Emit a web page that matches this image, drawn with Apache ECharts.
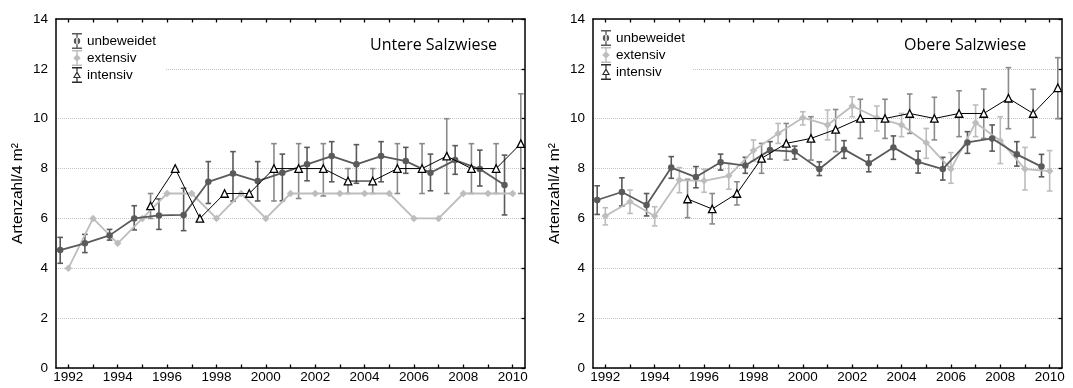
<!DOCTYPE html>
<html>
<head>
<meta charset="utf-8">
<script src="https://cdn.jsdelivr.net/npm/echarts@6/dist/echarts.min.js"></script>
<style>
  html, body { margin: 0; padding: 0; background: #fff; }
  #chart { width: 1073px; height: 388px; }
</style>
</head>
<body>
<div id="chart"></div>
<script>
// Survey years and axis tick labels
const years = [1992, 1993, 1994, 1995, 1996, 1997, 1998, 1999, 2000, 2001, 2002, 2003, 2004, 2005, 2006, 2007, 2008, 2009, 2010];
const labelYears = [1992, 1994, 1996, 1998, 2000, 2002, 2004, 2006, 2008, 2010];
const panelTitles = ['Untere Salzwiese', 'Obere Salzwiese'];
const seriesNames = ['unbeweidet', 'extensiv', 'intensiv'];
const yAxisTitle = 'Artenzahl/4 m²';

// Untere Salzwiese: mean species number with lower / upper range
const untereUnbeweidet   = [4.73, 5.0, 5.32, 6.0, 6.12, 6.14, 7.47, 7.8, 7.5, 7.83, 8.17, 8.5, 8.17, 8.5, 8.3, 7.83, 8.34, 7.98, 7.34];
const untereUnbeweidetLo = [4.2, 4.63, 5.13, 5.54, 5.56, 5.51, 6.6, 6.7, 6.7, 6.71, 7.51, 7.47, 7.41, 7.47, 7.81, 7.11, 7.77, 7.3, 6.14];
const untereUnbeweidetHi = [5.24, 5.36, 5.56, 6.51, 6.78, 7.21, 8.28, 8.68, 8.28, 8.58, 8.85, 9.08, 8.96, 9.08, 8.85, 8.58, 8.92, 8.74, 8.54];
const untereExtensiv     = [4, 6, 5, 6, 7, 7, 6, 7, 6, 7, 7, 7, 7, 7, 6, 6, 7, 7, 7];
const untereIntensiv     = [null, null, null, 6.5, 8, 6, 7, 7, 8, 8, 8, 7.5, 7.5, 8, 8, 8.5, 8, 8, 9];
const untereIntensivLo   = [null, null, null, 6, null, null, null, null, 6.7, 6.8, 6.9, 7, 7, 7, 7, 7, 7, 7, 7];
const untereIntensivHi   = [null, null, null, 7, null, null, null, null, 9, 9, 9, 8, 8, 9, 9, 10, 9, 9, 11];

// Obere Salzwiese: mean species number with lower / upper range
const obereUnbeweidet   = [6.74, 7.06, 6.54, 8.04, 7.66, 8.25, 8.12, 8.74, 8.68, 7.98, 8.77, 8.21, 8.85, 8.27, 7.98, 9.05, 9.21, 8.57, 8.08];
const obereUnbeweidetLo = [6.16, 6.5, 6.1, 7.61, 7.23, 7.94, 7.81, 8.38, 8.38, 7.72, 8.41, 7.87, 8.37, 7.82, 7.54, 8.61, 8.7, 8.1, 7.67];
const obereUnbeweidetHi = [7.31, 7.63, 7.0, 8.48, 8.08, 8.58, 8.45, 9.08, 8.9, 8.27, 9.12, 8.55, 9.31, 8.7, 8.45, 9.48, 9.75, 9.08, 8.57];
const obereExtensiv     = [6.1, 6.67, 6.1, 7.54, 7.51, 7.71, 8.72, 9.41, 10.04, 9.75, 10.51, 10.04, 9.75, 9.04, 7.98, 9.84, 9.12, 7.98, 7.9];
const obereExtensivLo   = [5.74, 6.2, 5.7, 7.03, 7.05, 7.17, 8.3, 9.01, 9.75, 9.15, 10.08, 9.51, 9.28, 8.41, 7.41, 9.28, 8.2, 7.14, 7.1];
const obereExtensivHi   = [6.43, 7.14, 6.47, 8.04, 7.98, 8.21, 9.15, 9.81, 10.28, 10.35, 10.88, 10.51, 10.21, 9.61, 8.64, 10.55, 10.08, 8.85, 8.72];
const obereIntensiv     = [null, null, null, 6.78, 6.38, 7.0, 8.41, 9.01, 9.21, 9.57, 10.01, 10.01, 10.21, 10.01, 10.21, 10.21, 10.82, 10.21, 11.24];
const obereIntensivLo   = [null, null, null, 6.03, 5.78, 6.54, 7.81, 8.34, 8.34, 8.68, 9.21, 9.21, 9.41, 9.15, 9.28, 9.21, 9.6, 9.25, 10.0];
const obereIntensivHi   = [null, null, null, 7.57, 7.0, 7.47, 9.01, 9.81, 10.08, 10.37, 10.78, 10.78, 10.99, 10.86, 11.12, 11.19, 12.05, 11.18, 12.45];

const panels = [
  {
    unbeweidet: [untereUnbeweidet, untereUnbeweidetLo, untereUnbeweidetHi],
    extensiv: [untereExtensiv, null, null],
    intensiv: [untereIntensiv, untereIntensivLo, untereIntensivHi]
  },
  {
    unbeweidet: [obereUnbeweidet, obereUnbeweidetLo, obereUnbeweidetHi],
    extensiv: [obereExtensiv, obereExtensivLo, obereExtensivHi],
    intensiv: [obereIntensiv, obereIntensivLo, obereIntensivHi]
  }
];

// Groups are drawn side by side within each year
const dodge = { unbeweidet: -0.33, extensiv: 0, intensiv: 0.33 };

const style = {
  unbeweidet: { line: '#5a5a5a', bar: '#5a5a5a', symbol: 'circle', size: 6.5, width: 1.8, fill: '#5a5a5a', border: '#5a5a5a', z: 4 },
  extensiv:   { line: '#bdbdbd', bar: '#bdbdbd', symbol: 'diamond', size: 7.5, width: 1.8, fill: '#bdbdbd', border: '#bdbdbd', z: 3 },
  intensiv:   { line: '#000000', bar: '#8a8a8a', symbol: 'triangle', size: 7.5, width: 1, fill: '#ffffff', border: '#000000', z: 5 }
};

function points(name, values) {
  const out = [];
  values.forEach((v, i) => { if (v != null) out.push([years[i] + dodge[name], v]); });
  return out;
}

function ranges(name, lo, hi) {
  const out = [];
  if (!lo) return out;
  lo.forEach((l, i) => { if (l != null && hi[i] != null) out.push([years[i] + dodge[name], l, hi[i]]); });
  return out;
}

function renderErrorBar(params, api) {
  const x = api.value(0);
  const top = api.coord([x, api.value(2)]);
  const bot = api.coord([x, api.value(1)]);
  const cap = 2.8;
  const s = { stroke: api.visual('color'), lineWidth: 1.6 };
  return {
    type: 'group',
    children: [
      { type: 'line', shape: { x1: top[0], y1: top[1], x2: bot[0], y2: bot[1] }, style: s },
      { type: 'line', shape: { x1: top[0] - cap, y1: top[1], x2: top[0] + cap, y2: top[1] }, style: s },
      { type: 'line', shape: { x1: bot[0] - cap, y1: bot[1], x2: bot[0] + cap, y2: bot[1] }, style: s }
    ]
  };
}

const grids = [
  { left: 56, right: 548, top: 19, bottom: 20 },
  { left: 593, right: 11, top: 19, bottom: 20 }
];

const font = '"Liberation Sans", Arial, sans-serif';
const xAxes = [];
const yAxes = [];
const series = [];

grids.forEach((g, gi) => {
  const axisLine = { show: true, onZero: false, lineStyle: { color: '#000', width: 1.5 } };
  xAxes.push({
    gridIndex: gi, type: 'value', position: 'bottom', min: 1991.5, max: 2010.5,
    axisLine,
    axisTick: { show: true, inside: true, length: 3.5, customValues: years, lineStyle: { color: '#000', width: 1.3 } },
    axisLabel: { show: true, customValues: labelYears, margin: 2, fontSize: 13.5, color: '#000', fontFamily: font, formatter: v => String(v) },
    splitLine: { show: false }
  });
  xAxes.push({
    gridIndex: gi, type: 'value', position: 'top', min: 1991.5, max: 2010.5,
    axisLine,
    axisTick: { show: true, inside: true, length: 3.5, customValues: years, lineStyle: { color: '#000', width: 1.3 } },
    axisLabel: { show: false },
    splitLine: { show: false }
  });
  yAxes.push({
    gridIndex: gi, type: 'value', position: 'left', min: 0, max: 14, interval: 2,
    axisLine,
    axisTick: { show: false },
    axisLabel: { margin: 8, fontSize: 13.5, color: '#000', fontFamily: font },
    splitLine: { show: true, lineStyle: { color: '#c4c4c4', type: [1, 1], width: 1 } },
    name: yAxisTitle, nameLocation: 'middle', nameGap: 30, nameRotate: 90,
    nameTextStyle: { fontSize: 15.5, color: '#000', fontFamily: font }
  });
  yAxes.push({
    gridIndex: gi, type: 'value', position: 'right', min: 0, max: 14, interval: 2,
    axisLine,
    axisTick: { show: true, inside: true, length: 3.5, lineStyle: { color: '#000', width: 1.3 } },
    axisLabel: { show: false },
    splitLine: { show: false }
  });

  const p = panels[gi];
  seriesNames.forEach(name => {
    const st = style[name];
    const [mean, lo, hi] = p[name];
    const bars = ranges(name, lo, hi);
    if (bars.length) {
      series.push({
        type: 'custom', name, xAxisIndex: gi * 2, yAxisIndex: gi * 2,
        renderItem: renderErrorBar,
        itemStyle: { color: st.bar },
        encode: { x: 0, y: [1, 2] },
        data: bars, z: 2, silent: true
      });
    }
    series.push({
      type: 'line', name, xAxisIndex: gi * 2, yAxisIndex: gi * 2,
      data: points(name, mean),
      symbol: st.symbol, symbolSize: st.size, showSymbol: true,
      lineStyle: { color: st.line, width: st.width },
      itemStyle: { color: st.fill, borderColor: st.border, borderWidth: name === 'intensiv' ? 1.3 : 0, opacity: 1 },
      z: st.z, silent: true
    });
  });
});

// Legend glyphs: error bar with the group's marker
const capPath = 'M0 0H10V1.5H0Z M0 14.5H10V16H0Z ';
const legendIcons = {
  unbeweidet: 'path://' + capPath + 'M4.3 0H5.7V16H4.3Z M1.8 8A3.2 3.2 0 1 0 8.2 8A3.2 3.2 0 1 0 1.8 8Z',
  extensiv: 'path://' + capPath + 'M4.3 0H5.7V16H4.3Z M5 4.2L8.8 8L5 11.8L1.2 8Z',
  intensiv: 'path://' + capPath + 'M4.4 0H5.6V4.5H4.4Z M4.4 11H5.6V16H4.4Z M5 4L9 11H1Z M5 6.4L2.8 10H7.2Z'
};
const legendColors = { unbeweidet: '#5a5a5a', extensiv: '#bdbdbd', intensiv: '#2a2a2a' };
const legendData = seriesNames.map(n => ({ name: n, icon: legendIcons[n], itemStyle: { color: legendColors[n], borderWidth: 0 } }));

const legendBase = {
  orient: 'vertical', itemWidth: 10, itemHeight: 16, itemGap: 1,
  selectedMode: false, backgroundColor: '#fff', z: 6,
  textStyle: { fontSize: 13.5, color: '#000', fontFamily: font },
  data: legendData
};

const chart = echarts.init(document.getElementById('chart'), null, { renderer: 'canvas' });
chart.setOption({
  animation: false,
  backgroundColor: '#fff',
  grid: grids,
  xAxis: xAxes,
  yAxis: yAxes,
  legend: [
    Object.assign({ left: 57, top: 28, padding: [5, 10, 5, 15] }, legendBase),
    Object.assign({ left: 594, top: 25, padding: [5, 8, 5, 7] }, legendBase)
  ],
  graphic: [
    { type: 'text', left: 370, top: 37, style: { text: panelTitles[0], font: '16px "Open Sans", sans-serif', fill: '#000' } },
    { type: 'text', left: 904, top: 37, style: { text: panelTitles[1], font: '16px "Open Sans", sans-serif', fill: '#000' } }
  ],
  series
});
</script>
</body>
</html>
